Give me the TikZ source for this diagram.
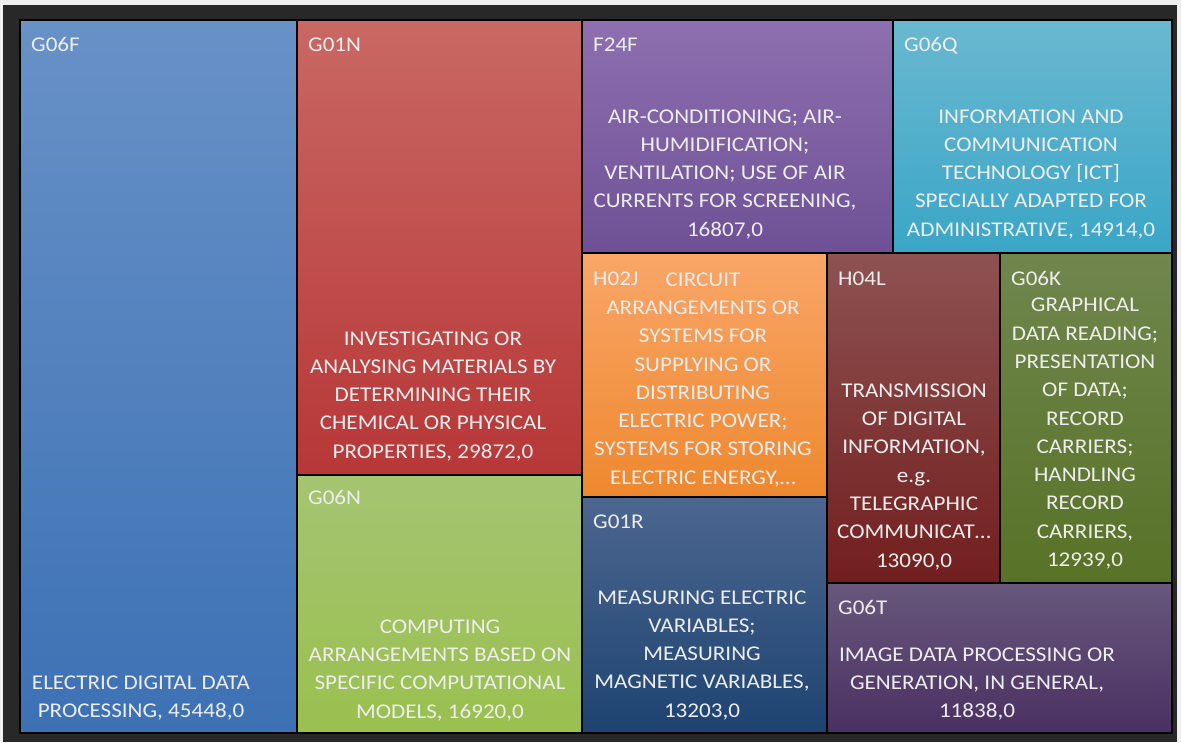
\documentclass[tikz,border=0pt]{standalone}
\usepackage{fontspec}
\setmainfont{Carlito}[FakeStretch=1.1]
\definecolor{txt}{HTML}{EDEDED}
\definecolor{frame}{HTML}{282828}
\definecolor{outside}{HTML}{EFEFEF}
\begin{document}
\begin{tikzpicture}[x=1pt,y=-1pt,
  tile/.style={draw=black, line width=1.3pt, inner sep=0pt, outer sep=0pt, anchor=north west},
  lbl/.style={anchor=west, text=txt, inner sep=0pt, font=\fontsize{21}{28.3}\selectfont},
  body/.style={align=center, text=txt, inner sep=0pt, font=\fontsize{21}{28.3}\selectfont}]
\useasboundingbox (0,0) rectangle (1181,742);
\fill[outside] (0,0) rectangle (1181,742);
\fill[frame] (3,5) rectangle (1177,742);
% tiles
\node[tile, top color={rgb,255:red,104;green,145;blue,199}, bottom color={rgb,255:red,60;green,113;blue,180}, minimum width=277pt, minimum height=713pt] (g06f) at (20,20) {};
\node[tile, top color={rgb,255:red,201;green,104;blue,100}, bottom color={rgb,255:red,183;green,55;blue,55}, minimum width=285pt, minimum height=455pt] (g01n) at (297,20) {};
\node[tile, top color={rgb,255:red,165;green,196;blue,114}, bottom color={rgb,255:red,154;green,192;blue,78}, minimum width=285pt, minimum height=258pt] (g06n) at (297,475) {};
\node[tile, top color={rgb,255:red,142;green,112;blue,176}, bottom color={rgb,255:red,110;green,80;blue,150}, minimum width=311pt, minimum height=233pt] (f24f) at (582,20) {};
\node[tile, top color={rgb,255:red,106;green,184;blue,208}, bottom color={rgb,255:red,58;green,166;blue,199}, minimum width=279pt, minimum height=233pt] (g06q) at (893,20) {};
\node[tile, top color={rgb,255:red,249;green,166;blue,104}, bottom color={rgb,255:red,238;green,136;blue,46}, minimum width=245pt, minimum height=244pt] (h02j) at (582,253) {};
\node[tile, top color={rgb,255:red,76;green,103;blue,144}, bottom color={rgb,255:red,30;green,67;blue,113}, minimum width=245pt, minimum height=236pt] (g01r) at (582,497) {};
\node[tile, top color={rgb,255:red,142;green,82;blue,82}, bottom color={rgb,255:red,114;green,30;blue,30}, minimum width=173pt, minimum height=330pt] (h04l) at (827,253) {};
\node[tile, top color={rgb,255:red,112;green,134;blue,78}, bottom color={rgb,255:red,88;green,114;blue,38}, minimum width=172pt, minimum height=330pt] (g06k) at (1000,253) {};
\node[tile, top color={rgb,255:red,104;green,88;blue,124}, bottom color={rgb,255:red,74;green,48;blue,98}, minimum width=345pt, minimum height=150pt] (g06t) at (827,583) {};
% labels
\node[lbl] (lg06f) at (31,46) {\strut G06F};
\node[lbl] (lg01n) at (308,46) {\strut G01N};
\node[lbl] (lg06n) at (308,499) {\strut G06N};
\node[lbl] (lf24f) at (593,46) {\strut F24F};
\node[lbl] (lg06q) at (904,46) {\strut G06Q};
\node[lbl] (lh02j) at (593,280) {\strut H02J};
\node[lbl] (lh04l) at (838,280) {\strut H04L};
\node[lbl] (lg06k) at (1011,280) {\strut G06K};
\node[lbl] (lg01r) at (593,523) {\strut G01R};
\node[lbl] (lg06t) at (838,609) {\strut G06T};
% bodies
\node[body] (bg06f) at (141,698) {\strut ELECTRIC DIGITAL DATA\\PROCESSING, 45448,0\strut};
\node[body] (bg01n) at (433,396) {\strut INVESTIGATING OR\\ANALYSING MATERIALS BY\\DETERMINING THEIR\\CHEMICAL OR PHYSICAL\\PROPERTIES, 29872,0\strut};
\node[body] (bg06n) at (440,670) {\strut COMPUTING\\ARRANGEMENTS BASED ON\\SPECIFIC COMPUTATIONAL\\MODELS, 16920,0\strut};
\node[body] (bf24f) at (725,174) {\strut AIR-CONDITIONING; AIR-\\HUMIDIFICATION;\\VENTILATION; USE OF AIR\\CURRENTS FOR SCREENING,\\16807,0\strut};
\node[body] (bg06q) at (1031,174) {\strut INFORMATION AND\\COMMUNICATION\\TECHNOLOGY [ICT]\\SPECIALLY ADAPTED FOR\\ADMINISTRATIVE, 14914,0\strut};
\node[body] (bh02j) at (703,379.5) {\strut CIRCUIT\\ARRANGEMENTS OR\\SYSTEMS FOR\\SUPPLYING OR\\DISTRIBUTING\\ELECTRIC POWER;\\SYSTEMS FOR STORING\\ELECTRIC ENERGY,…\strut};
\node[body] (bh04l) at (914,476.5) {\strut TRANSMISSION\\OF DIGITAL\\INFORMATION,\\e.g.\\TELEGRAPHIC\\COMMUNICAT…\\13090,0\strut};
\node[body] (bg06k) at (1085,433.5) {\strut GRAPHICAL\\DATA READING;\\PRESENTATION\\OF DATA;\\RECORD\\CARRIERS;\\HANDLING\\RECORD\\CARRIERS,\\12939,0\strut};
\node[body] (bg01r) at (702,655) {\strut MEASURING ELECTRIC\\VARIABLES;\\MEASURING\\MAGNETIC VARIABLES,\\13203,0\strut};
\node[body] (bg06t) at (977,684) {\strut IMAGE DATA PROCESSING OR\\GENERATION, IN GENERAL,\\11838,0\strut};
\end{tikzpicture}
\end{document}
